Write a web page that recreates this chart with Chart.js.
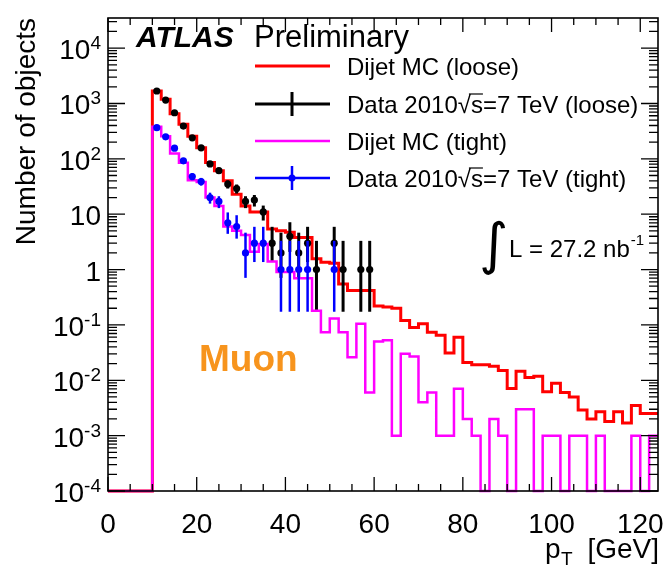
<!DOCTYPE html>
<html>
<head>
<meta charset="utf-8">
<script src="https://cdn.jsdelivr.net/npm/chart.js@4.4.0/dist/chart.umd.min.js"></script>
<style>
  html, body { margin: 0; padding: 0; background: #ffffff; }
  #wrap { width: 669px; height: 571px; }
</style>
</head>
<body>
<div id="wrap"><canvas id="ptChart" width="669" height="571"></canvas></div>
<script>
// Muon pT spectrum: 2 GeV bins, first filled bin starts at 10 GeV
const BIN_START = 10;
const BIN_WIDTH = 2;
const X_MAX = 124;
const Y_MIN = 1e-4;
const Y_MAX = 3.5e4;

const xTickLabels = [0, 20, 40, 60, 80, 100, 120];
const yDecades = [-4, -3, -2, -1, 0, 1, 2, 3, 4];

// Dijet MC, loose selection (10-12 ... 122-124 GeV)
const mcLoose = [
  1680, 1190, 650, 420, 257, 159, 86, 61, 40, 23,
  14, 11, 11, 5.4, 5.0, 4.7, 3.8, 3.8, 1.56, 1.35,
  1.3, 0.55, 0.42, 0.42, 0.42, 0.22, 0.21, 0.2, 0.12, 0.09,
  0.105, 0.074, 0.065, 0.031, 0.06, 0.021, 0.019, 0.019, 0.018, 0.015,
  0.0071, 0.0145, 0.0112, 0.0118, 0.0062, 0.0088, 0.006, 0.005, 0.0029, 0.002,
  0.0027, 0.0018, 0.0027, 0.0017, 0.0035, 0.0025, 0.0025
];

// Dijet MC, tight selection
const mcTight = [
  380, 256, 125, 85, 41, 38, 20, 14, 6, 5,
  4.2, 2.1, 2.9, 1.4, 0.9, 0.9, 0.7, 0.7, 0.18, 0.074,
  0.13, 0.074, 0.026, 0.105, 0.006, 0.05, 0.053, 0.001, 0.03, 0.027,
  0.004, 0.006, 0.001, 0.001, 0.007, 0.002, 0.001, 0, 0.002, 0.001,
  0, 0.003, 0.003, 0, 0.001, 0.001, 0, 0.001, 0.001, 0,
  0.001, 0, 0, 0, 0.001, 0, 0.001
];

// Data 2010 counts (10-12 ... 58-60 GeV)
const dataLoose = [1680, 1150, 680, 390, 240, 158, 81, 61, 35, 29, 17, 18, 11, 3, 2, 4, 2, 3, 1, 0, 3, 1, 0, 1, 1];
const dataTight = [365, 250, 156, 92, 48, 39, 20, 17, 7, 6, 2, 3, 3, 0, 1, 1, 1, 1, 0, 0, 1, 0, 0, 0, 0];

// 68% Poisson intervals for small counts
const poissonLow  = {1: 0.173, 2: 0.708, 3: 1.367, 4: 2.086, 5: 2.840, 6: 3.620, 7: 4.419};
const poissonHigh = {1: 3.300, 2: 4.638, 3: 5.918, 4: 7.163, 5: 8.382, 6: 9.584, 7: 10.77};

function poissonInterval(n) {
  if (poissonLow[n] !== undefined) return [poissonLow[n], poissonHigh[n]];
  return [n - Math.sqrt(n), n + Math.sqrt(n)];
}

// step histogram: empty bins sit on the axis minimum, like ROOT draws them
function histPoints(values) {
  const pts = [{x: 0, y: Y_MIN}];
  values.forEach((v, i) => {
    pts.push({x: BIN_START + i * BIN_WIDTH, y: v > 0 ? v : Y_MIN});
  });
  pts.push({x: X_MAX, y: values[values.length - 1] || Y_MIN});
  return pts;
}

function dataPoints(counts) {
  const pts = [];
  counts.forEach((n, i) => {
    if (n > 0) pts.push({x: BIN_START + (i + 0.5) * BIN_WIDTH, y: n});
  });
  return pts;
}

const FONT = "'Liberation Sans', Arial, sans-serif";

const errorBars = {
  id: 'errorBars',
  beforeDatasetDraw(chart, args) {
    const ds = chart.data.datasets[args.index];
    if (!ds.errorWidth) return;
    const ctx = chart.ctx;
    const yScale = chart.scales.y;
    ctx.save();
    ctx.strokeStyle = ds.backgroundColor;
    ctx.lineWidth = ds.errorWidth;
    args.meta.data.forEach((pt, i) => {
      const [lo, hi] = poissonInterval(ds.data[i].y);
      ctx.beginPath();
      ctx.moveTo(pt.x, yScale.getPixelForValue(lo));
      ctx.lineTo(pt.x, yScale.getPixelForValue(hi));
      ctx.stroke();
    });
    ctx.restore();
  }
};

function drawPowerLabel(ctx, exp, right, py) {
  if (exp === 0 || exp === 1) {
    ctx.font = `28px ${FONT}`;
    ctx.textAlign = 'right';
    ctx.fillText(exp === 0 ? '1' : '10', right, py + 11);
    return;
  }
  ctx.font = `19px ${FONT}`;
  ctx.textAlign = 'right';
  const e = String(exp);
  const ew = ctx.measureText(e).width;
  ctx.fillText(e, right, py + 1);
  ctx.font = `28px ${FONT}`;
  ctx.fillText('10', right - ew, py + 11);
}

const frameAndText = {
  id: 'frameAndText',
  afterDraw(chart) {
    const {ctx, chartArea: a} = chart;
    const xs = chart.scales.x;
    const ys = chart.scales.y;
    ctx.save();
    ctx.strokeStyle = '#000';
    ctx.fillStyle = '#000';

    // frame
    ctx.lineWidth = 1.6;
    ctx.strokeRect(a.left, a.top, a.right - a.left, a.bottom - a.top);

    // x ticks every 5 GeV, long every 20
    ctx.lineWidth = 1.3;
    for (let v = 0; v <= X_MAX; v += 5) {
      const px = xs.getPixelForValue(v);
      const len = v % 20 === 0 ? 14 : 7;
      ctx.beginPath();
      ctx.moveTo(px, a.bottom); ctx.lineTo(px, a.bottom - len);
      ctx.moveTo(px, a.top); ctx.lineTo(px, a.top + len);
      ctx.stroke();
    }
    // log y ticks
    for (let e = -4; e <= 4; e++) {
      for (let m = 1; m <= 9; m++) {
        const v = m * Math.pow(10, e);
        if (v > Y_MAX) break;
        const py = ys.getPixelForValue(v);
        const len = m === 1 ? 17 : 9;
        ctx.beginPath();
        ctx.moveTo(a.left, py); ctx.lineTo(a.left + len, py);
        ctx.moveTo(a.right, py); ctx.lineTo(a.right - len, py);
        ctx.stroke();
      }
    }

    // tick labels
    ctx.font = `28px ${FONT}`;
    ctx.textAlign = 'center';
    ctx.textBaseline = 'alphabetic';
    xTickLabels.forEach(v => ctx.fillText(String(v), xs.getPixelForValue(v), 533));
    yDecades.forEach(e => drawPowerLabel(ctx, e, 101, ys.getPixelForValue(Math.pow(10, e))));

    // axis titles
    ctx.save();
    ctx.translate(35, a.top);
    ctx.rotate(-Math.PI / 2);
    ctx.textAlign = 'right';
    ctx.font = `28px ${FONT}`;
    ctx.fillText('Number of objects', 0, 0);
    ctx.restore();

    ctx.textAlign = 'left';
    ctx.font = `28px ${FONT}`;
    ctx.fillText('p', 545, 558);
    ctx.font = `19px ${FONT}`;
    ctx.fillText('T', 561, 565);
    ctx.font = `28px ${FONT}`;
    ctx.textAlign = 'right';
    ctx.fillText('[GeV]', 659, 558);

    // ATLAS label
    ctx.textAlign = 'left';
    ctx.font = `italic bold 30px ${FONT}`;
    ctx.fillText('ATLAS', 136, 47);
    ctx.font = `31px ${FONT}`;
    ctx.fillText('Preliminary', 254, 47);

    // legend
    const rows = [
      {y: 66, color: '#ff0000', width: 3, text: 'Dijet MC (loose)'},
      {y: 104, color: '#000000', width: 3, bar: true, text: 'Data 2010\u221As=7 TeV (loose)'},
      {y: 141, color: '#ff00ff', width: 2.5, text: 'Dijet MC (tight)'},
      {y: 178, color: '#0000ff', width: 2.5, bar: true, dot: true, text: 'Data 2010\u221As=7 TeV (tight)'}
    ];
    rows.forEach(r => {
      ctx.strokeStyle = r.color;
      ctx.fillStyle = r.color;
      ctx.lineWidth = r.width;
      ctx.beginPath();
      ctx.moveTo(255, r.y); ctx.lineTo(330, r.y);
      if (r.bar) { ctx.moveTo(292, r.y - 12); ctx.lineTo(292, r.y + 12); }
      ctx.stroke();
      if (r.dot) { ctx.beginPath(); ctx.arc(292, r.y, 3.5, 0, Math.PI * 2); ctx.fill(); }
      ctx.fillStyle = '#000';
      ctx.font = `24px ${FONT}`;
      ctx.textAlign = 'left';
      ctx.fillText(r.text, 347, r.y + 9);
      if (r.bar) {
        // overbar of the square root
        const pre = ctx.measureText('Data 2010\u221A').width;
        const sw = ctx.measureText('s').width;
        ctx.strokeStyle = '#000';
        ctx.lineWidth = 1.2;
        ctx.beginPath();
        ctx.moveTo(347 + pre - 2, r.y - 10); ctx.lineTo(347 + pre + sw, r.y - 10);
        ctx.stroke();
      }
    });

    // luminosity
    ctx.fillStyle = '#000';
    ctx.font = `56px 'DejaVu Sans', sans-serif`;
    ctx.fillText('\u222B', 479, 263);
    ctx.font = `24px ${FONT}`;
    const lumi = 'L = 27.2 nb';
    ctx.fillText(lumi, 509, 257);
    const lw = ctx.measureText(lumi).width;
    ctx.font = `15px ${FONT}`;
    ctx.fillText('-1', 509 + lw + 1, 245);

    // channel tag
    ctx.font = `bold 37px ${FONT}`;
    ctx.fillStyle = '#f7941d';
    ctx.fillText('Muon', 199, 371);

    ctx.restore();
  }
};

new Chart(document.getElementById('ptChart'), {
  type: 'line',
  data: {
    datasets: [
      {
        label: 'Dijet MC (loose)',
        data: histPoints(mcLoose),
        borderColor: '#ff0000',
        borderWidth: 3,
        stepped: true,
        pointRadius: 0,
        fill: false,
        clip: 6,
        order: 4
      },
      {
        label: 'Data 2010 (loose)',
        data: dataPoints(dataLoose),
        showLine: false,
        backgroundColor: '#000000',
        borderColor: '#000000',
        borderWidth: 0,
        pointRadius: 3.6,
        errorWidth: 3,
        order: 3
      },
      {
        label: 'Dijet MC (tight)',
        data: histPoints(mcTight),
        borderColor: '#ff00ff',
        borderWidth: 2.5,
        stepped: true,
        pointRadius: 0,
        fill: false,
        clip: 6,
        order: 2
      },
      {
        label: 'Data 2010 (tight)',
        data: dataPoints(dataTight),
        showLine: false,
        backgroundColor: '#0000ff',
        borderColor: '#0000ff',
        borderWidth: 0,
        pointRadius: 3.6,
        errorWidth: 2.5,
        order: 1
      }
    ]
  },
  options: {
    responsive: false,
    animation: false,
    devicePixelRatio: 1,
    layout: {
      padding: {left: 108, right: 11, top: 18, bottom: 80}
    },
    plugins: {
      legend: {display: false},
      tooltip: {enabled: false}
    },
    scales: {
      x: {
        type: 'linear',
        min: 0,
        max: X_MAX,
        display: false
      },
      y: {
        type: 'logarithmic',
        min: Y_MIN,
        max: Y_MAX,
        display: false
      }
    }
  },
  plugins: [errorBars, frameAndText]
});
</script>
</body>
</html>
